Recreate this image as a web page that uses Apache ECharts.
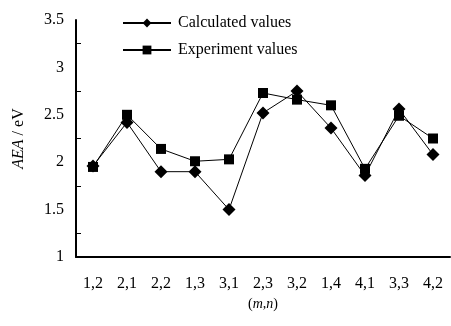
<!DOCTYPE html>
<html>
<head>
<meta charset="utf-8">
<script src="https://cdn.jsdelivr.net/npm/echarts@6/dist/echarts.min.js"></script>
<style>
  html, body { margin: 0; padding: 0; background: #fff; }
  #chart { width: 451px; height: 326px; }
</style>
</head>
<body>
<div id="chart"></div>
<script>
// (m,n) 组合
const categories = ['1,2', '2,1', '2,2', '1,3', '3,1', '2,3', '3,2', '1,4', '4,1', '3,3', '4,2'];
// 计算值
const calculated = [1.96, 2.42, 1.90, 1.90, 1.50, 2.52, 2.75, 2.36, 1.86, 2.56, 2.08];
// 实验值
const experiment = [1.95, 2.50, 2.14, 2.01, 2.03, 2.73, 2.66, 2.60, 1.93, 2.49, 2.25];

const font = '"Liberation Serif", "DejaVu Serif", serif';

let chart = echarts.init(document.getElementById('chart'));

let option = {
  animation: false,
  textStyle: { fontFamily: font },
  legend: {
    orient: 'vertical',
    left: 117,
    top: 10,
    itemWidth: 48,
    itemHeight: 11,
    itemGap: 11,
    textStyle: { fontFamily: font, fontSize: 16, color: '#000', padding: [0, 0, 0, 2] },
    data: ['Calculated values', 'Experiment values']
  },
  grid: {
    left: 76,
    right: 1,
    top: 20,
    bottom: 69
  },
  xAxis: [
    {
      type: 'category',
      data: categories,
      boundaryGap: true,
      name: '({i|m,n})',
      nameLocation: 'middle',
      nameGap: 39,
      nameTextStyle: {
        fontFamily: font, fontSize: 14, color: '#000',
        rich: { i: { fontFamily: font, fontSize: 14, fontStyle: 'italic', color: '#000' } }
      },
      axisLine: { lineStyle: { color: '#000', width: 2 } },
      axisTick: { inside: true, length: 4, lineStyle: { color: '#000' } },
      axisLabel: { color: '#000', fontSize: 16, fontFamily: font, margin: 19 },
      splitLine: { show: false }
    },
    {
      // 第二条轴只用来画类目中心的刻度
      type: 'category',
      data: categories,
      position: 'bottom',
      boundaryGap: true,
      axisLine: { show: false },
      axisTick: { inside: true, length: 4, alignWithLabel: true, lineStyle: { color: '#000' } },
      axisLabel: { show: false },
      splitLine: { show: false }
    }
  ],
  yAxis: {
    type: 'value',
    min: 1,
    max: 3.5,
    interval: 0.5,
    name: '{i|AEA} / eV',
    nameLocation: 'middle',
    nameGap: 49,
    nameTextStyle: {
      fontFamily: font, fontSize: 16, color: '#000',
      rich: { i: { fontFamily: font, fontSize: 16, fontStyle: 'italic', color: '#000' } }
    },
    axisLine: { show: true, lineStyle: { color: '#000', width: 2 } },
    axisTick: { inside: true, length: 5, lineStyle: { color: '#000' } },
    minorTick: { show: true, splitNumber: 2, length: 5, lineStyle: { color: '#000' } },
    axisLabel: { color: '#000', fontSize: 16, fontFamily: font, margin: 12 },
    splitLine: { show: false }
  },
  series: [
    {
      name: 'Calculated values',
      type: 'line',
      data: calculated,
      symbol: 'diamond',
      symbolSize: 13,
      itemStyle: { color: '#000' },
      lineStyle: { color: '#000', width: 1 },
      z: 3
    },
    {
      name: 'Experiment values',
      type: 'line',
      data: experiment,
      symbol: 'rect',
      symbolSize: 10,
      itemStyle: { color: '#000' },
      lineStyle: { color: '#000', width: 1 },
      z: 2
    }
  ]
};

chart.setOption(option, true);
</script>
</body>
</html>
